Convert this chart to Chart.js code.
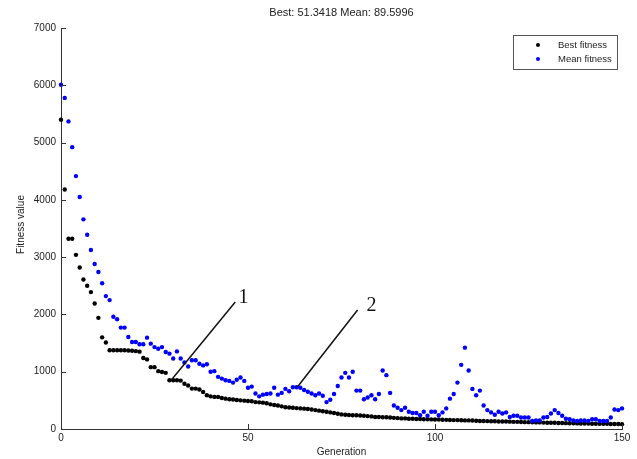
<!DOCTYPE html>
<html><head><meta charset="utf-8">
<script src="https://cdn.jsdelivr.net/npm/chart.js@4.4.1/dist/chart.umd.min.js"></script>
<style>html,body{margin:0;padding:0;background:#fff}#wrap{width:637px;height:459px;position:relative}</style>
</head><body><div id="wrap"><canvas id="c" width="637" height="459"></canvas></div>
<script>
const chartTitle = 'Best: 51.3418 Mean: 89.5996';
const xAxisTitle = 'Generation';
const yAxisTitle = 'Fitness value';
const seriesLabels = ['Best fitness', 'Mean fitness'];
const xTicks = [0, 50, 100, 150];
const yTicks = [0, 1000, 2000, 3000, 4000, 5000, 6000, 7000];

const generations = [
  0,1,2,3,4,5,6,7,8,9,10,11,12,13,14,15,16,17,18,19,
  20,21,22,23,24,25,26,27,28,29,30,31,32,33,34,35,36,37,38,39,
  40,41,42,43,44,45,46,47,48,49,50,51,52,53,54,55,56,57,58,59,
  60,61,62,63,64,65,66,67,68,69,70,71,72,73,74,75,76,77,78,79,
  80,81,82,83,84,85,86,87,88,89,90,91,92,93,94,95,96,97,98,99,
  100,101,102,103,104,105,106,107,108,109,110,111,112,113,114,115,116,117,118,119,
  120,121,122,123,124,125,126,127,128,129,130,131,132,133,134,135,136,137,138,139,
  140,141,142,143,144,145,146,147,148,149,150
];

const bestFitness = [
  5400,4180,3320,3320,3040,2820,2610,2500,2390,2190,
  1940,1600,1510,1375,1375,1375,1375,1375,1370,1365,
  1360,1350,1240,1215,1080,1080,1010,995,980,850,
  850,850,845,790,760,705,705,690,645,590,
  570,560,560,540,530,520,515,505,500,495,
  490,485,470,465,460,450,430,420,410,395,
  380,375,370,365,360,355,350,340,330,320,
  310,300,290,280,265,255,250,245,240,240,
  235,230,225,220,210,210,205,205,200,195,
  190,185,185,180,180,175,175,170,170,168,
  165,165,162,160,158,155,155,152,150,150,
  148,145,140,140,138,135,135,132,130,130,
  128,125,125,122,120,120,118,115,115,112,
  110,110,108,105,105,102,100,100,98,96,
  95,94,92,92,90,90,90,88,88,86,
  85
];

const meanFitness = [
  6010,5780,5370,4920,4415,4050,3660,3390,3125,2880,
  2740,2545,2320,2250,1960,1915,1770,1770,1605,1520,
  1520,1480,1480,1595,1490,1430,1400,1430,1345,1315,
  1230,1355,1230,1160,1090,1200,1200,1140,1110,1130,
  1000,1010,910,880,850,840,810,860,900,840,
  720,740,620,570,600,610,620,720,600,630,
  700,660,730,730,720,680,650,620,590,620,
  580,470,510,610,750,900,980,900,1000,670,
  670,520,550,590,520,610,1020,940,630,410,
  370,330,370,300,280,280,240,300,230,300,
  300,240,290,360,530,610,810,1120,1420,1020,
  700,590,670,410,330,290,250,300,270,290,
  210,230,230,200,200,200,140,150,150,200,
  210,270,330,280,230,180,170,150,140,150,
  150,140,170,170,140,140,140,200,340,330,
  360
];

// annotation callouts, given in data coordinates (generation, fitness)
const calloutLabels = ['1', '2'];
const calloutFrom = [[29.5, 855], [63.2, 733]];
const calloutTo = [[46.6, 2216], [79.3, 2077]];
const calloutText = [[48.8, 2286], [83.0, 2147]];

const TEXT = '#222';
const FONT = '"Liberation Sans", Arial, sans-serif';

const overlay = {
  id: 'overlay',
  afterDraw(chart) {
    const ctx = chart.ctx;
    const xs = chart.scales.x, ys = chart.scales.y;
    const a = chart.chartArea;
    ctx.save();
    // inward tick marks
    ctx.strokeStyle = '#333';
    ctx.lineWidth = 1;
    ctx.beginPath();
    yTicks.forEach(v => {
      const y = Math.round(ys.getPixelForValue(v)) + 0.5;
      ctx.moveTo(a.left, y); ctx.lineTo(a.left + 5, y);
    });
    xTicks.forEach(v => {
      const x = Math.round(xs.getPixelForValue(v)) + 0.5;
      ctx.moveTo(x, a.bottom); ctx.lineTo(x, a.bottom - 5);
    });
    ctx.stroke();

    // title
    ctx.fillStyle = TEXT;
    ctx.font = '11px ' + FONT;
    ctx.textAlign = 'center';
    ctx.textBaseline = 'middle';
    ctx.fillText(chartTitle, (a.left + a.right) / 2, 13);

    // axis titles
    ctx.font = '10px ' + FONT;
    ctx.fillText(xAxisTitle, (a.left + a.right) / 2, 452);
    ctx.save();
    ctx.translate(21, (a.top + a.bottom) / 2 - 4);
    ctx.rotate(-Math.PI / 2);
    ctx.fillText(yAxisTitle, 0, 0);
    ctx.restore();

    // callouts
    ctx.strokeStyle = '#111';
    ctx.lineWidth = 1.5;
    calloutLabels.forEach((lab, i) => {
      ctx.beginPath();
      ctx.moveTo(xs.getPixelForValue(calloutFrom[i][0]), ys.getPixelForValue(calloutFrom[i][1]));
      ctx.lineTo(xs.getPixelForValue(calloutTo[i][0]), ys.getPixelForValue(calloutTo[i][1]));
      ctx.stroke();
      ctx.font = '20px "Liberation Serif", "Times New Roman", serif';
      ctx.fillStyle = '#111';
      ctx.textAlign = 'center';
      ctx.textBaseline = 'middle';
      ctx.fillText(lab, xs.getPixelForValue(calloutText[i][0]), ys.getPixelForValue(calloutText[i][1]));
    });

    // legend
    const lx = 513.5, ly = 35.5, lw = 104, lh = 34;
    ctx.fillStyle = '#fff';
    ctx.fillRect(lx, ly, lw, lh);
    ctx.strokeStyle = '#555';
    ctx.lineWidth = 1;
    ctx.strokeRect(lx, ly, lw, lh);
    chart.data.datasets.forEach((ds, i) => {
      const yy = 45 + i * 14;
      ctx.fillStyle = ds.backgroundColor;
      ctx.beginPath();
      ctx.arc(538, yy, 2, 0, Math.PI * 2);
      ctx.fill();
      ctx.fillStyle = TEXT;
      ctx.font = '9.5px ' + FONT;
      ctx.textAlign = 'left';
      ctx.textBaseline = 'middle';
      ctx.fillText(ds.label, 558, yy);
    });
    ctx.restore();
  }
};

new Chart(document.getElementById('c'), {
  type: 'scatter',
  data: {
    datasets: [
      {
        label: seriesLabels[0],
        data: generations.map((g, i) => ({x: g, y: bestFitness[i]})),
        backgroundColor: '#000', borderColor: '#000',
        pointRadius: 2.2, pointBorderWidth: 0, pointHoverRadius: 2.2,
        clip: false, order: 1
      },
      {
        label: seriesLabels[1],
        data: generations.map((g, i) => ({x: g, y: meanFitness[i]})),
        backgroundColor: '#0000ff', borderColor: '#0000ff',
        pointRadius: 2.2, pointBorderWidth: 0, pointHoverRadius: 2.2,
        clip: false, order: 0
      }
    ]
  },
  options: {
    responsive: false,
    animation: false,
    events: [],
    layout: {padding: {left: 0, right: 15, top: 28, bottom: 0}},
    plugins: {legend: {display: false}, title: {display: false}, tooltip: {enabled: false}},
    scales: {
      x: {
        type: 'linear', min: 0, max: 150,
        afterFit: s => { s.height = 30; },
        afterBuildTicks: s => { s.ticks = xTicks.map(v => ({value: v})); },
        ticks: {color: TEXT, font: {family: FONT, size: 10}, padding: 3, maxRotation: 0, callback: v => String(v)},
        grid: {display: true, drawOnChartArea: false, drawTicks: false},
        border: {display: true, color: '#333', width: 1}
      },
      y: {
        type: 'linear', min: 0, max: 7000,
        afterFit: s => { s.width = 61; },
        afterBuildTicks: s => { s.ticks = yTicks.map(v => ({value: v})); },
        ticks: {color: TEXT, font: {family: FONT, size: 10}, padding: 5, callback: v => String(v)},
        grid: {display: true, drawOnChartArea: false, drawTicks: false},
        border: {display: true, color: '#333', width: 1}
      }
    }
  },
  plugins: [overlay]
});
</script>
</body></html>
